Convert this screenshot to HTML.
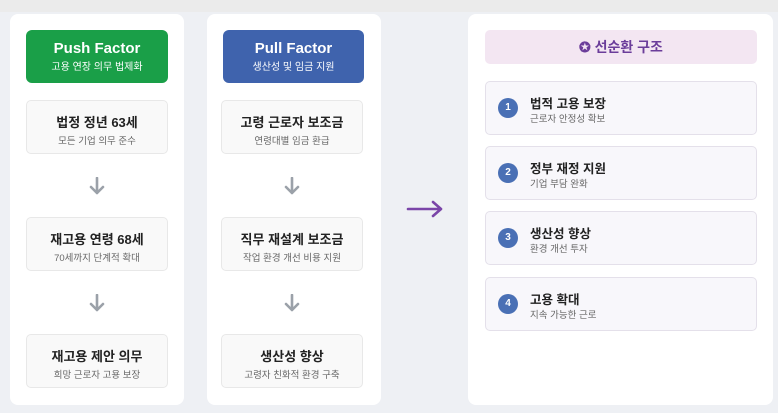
<!DOCTYPE html>
<html><head><meta charset="utf-8"><style>
*{margin:0;padding:0;box-sizing:border-box}
body{width:778px;height:413px;background:#eef0f4;font-family:"Liberation Sans","Noto Sans CJK KR",sans-serif;position:relative;overflow:hidden}
.top{position:absolute;left:0;top:0;width:778px;height:12px;background:#ebebeb}
.col{position:absolute;top:14px;height:391px;background:#fff;border-radius:8px}
.hd{position:absolute;border-radius:6px;color:#fff;text-align:center}
.hd b{display:block;font-size:15px;margin-top:10px}
.hd span{display:block;font-size:10px;margin-top:1px}
.bx{position:absolute;height:54px;background:#f9f9f9;border:1px solid #e8e8e8;border-radius:5px;text-align:center}
.bx b{display:block;font-size:13px;color:#222;margin-top:11px}
.bx span{display:block;font-size:9.5px;color:#666;margin-top:2px}
.ar{position:absolute}
.it{position:absolute;left:485px;width:272px;height:54px;background:#f8f7fb;border:1px solid #e4e0ea;border-radius:5px}
.it i{position:absolute;left:12px;top:16px;width:20px;height:20px;border-radius:50%;background:#4a70b5;color:#fff;font-style:normal;font-size:10px;font-weight:bold;text-align:center;line-height:20px}
.it b{position:absolute;left:44px;top:11px;font-size:12.5px;color:#222}
.it span{position:absolute;left:44px;top:29px;font-size:9.5px;color:#666}
</style></head><body>
<div class="top"></div>
<div class="col" style="left:10px;width:174px"></div>
<div class="col" style="left:207px;width:174px"></div>
<div class="col" style="left:468px;width:305px"></div>

<svg width="0" height="0" style="position:absolute"><defs><g id="da"><path d="M8 1V16M2 10L8 16L14 10" fill="none" stroke="#9ba1a9" stroke-width="2.6" stroke-linecap="round" stroke-linejoin="round"/></g></defs></svg>

<div class="hd" style="left:26px;top:30px;width:142px;height:53px;background:#1a9f48"><b>Push Factor</b><span>고용 연장 의무 법제화</span></div>
<div class="bx" style="left:26px;top:100px;width:142px"><b>법정 정년 63세</b><span>모든 기업 의무 준수</span></div>
<svg class="ar" style="left:89px;top:177px" width="16" height="18"><use href="#da"/></svg>
<div class="bx" style="left:26px;top:217px;width:142px"><b>재고용 연령 68세</b><span>70세까지 단계적 확대</span></div>
<svg class="ar" style="left:89px;top:294px" width="16" height="18"><use href="#da"/></svg>
<div class="bx" style="left:26px;top:334px;width:142px"><b>재고용 제안 의무</b><span>희망 근로자 고용 보장</span></div>

<div class="hd" style="left:223px;top:30px;width:141px;height:53px;background:#3f63ad"><b>Pull Factor</b><span>생산성 및 임금 지원</span></div>
<div class="bx" style="left:221px;top:100px;width:142px"><b>고령 근로자 보조금</b><span>연령대별 임금 환급</span></div>
<svg class="ar" style="left:284px;top:177px" width="16" height="18"><use href="#da"/></svg>
<div class="bx" style="left:221px;top:217px;width:142px"><b>직무 재설계 보조금</b><span>작업 환경 개선 비용 지원</span></div>
<svg class="ar" style="left:284px;top:294px" width="16" height="18"><use href="#da"/></svg>
<div class="bx" style="left:221px;top:334px;width:142px"><b>생산성 향상</b><span>고령자 친화적 환경 구축</span></div>

<svg class="ar" style="left:405px;top:199px" width="40" height="20"><path d="M3 10H36M28 3L36 10L28 17" fill="none" stroke="#7a45a8" stroke-width="2.6" stroke-linecap="round" stroke-linejoin="round"/></svg>

<div style="position:absolute;left:485px;top:30px;width:272px;height:34px;background:#f3e6f2;border-radius:5px;text-align:center;line-height:34px;color:#6b3d9a;font-weight:bold;font-size:14px">✪ 선순환 구조</div>
<div class="it" style="top:81px"><i>1</i><b>법적 고용 보장</b><span>근로자 안정성 확보</span></div>
<div class="it" style="top:146px"><i>2</i><b>정부 재정 지원</b><span>기업 부담 완화</span></div>
<div class="it" style="top:211px"><i>3</i><b>생산성 향상</b><span>환경 개선 투자</span></div>
<div class="it" style="top:277px"><i>4</i><b>고용 확대</b><span>지속 가능한 근로</span></div>
</body></html>
